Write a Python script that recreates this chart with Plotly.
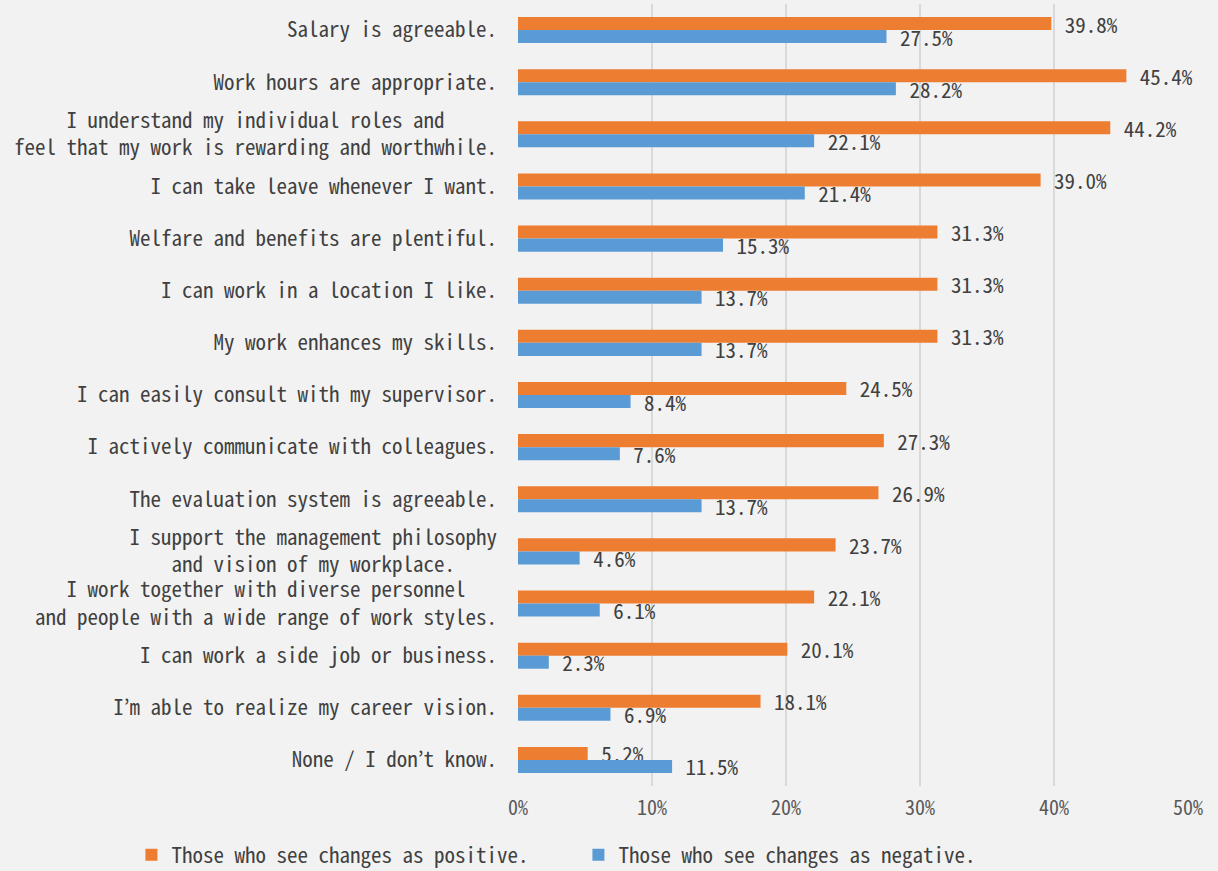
import plotly.graph_objects as go

# Survey items (top to bottom), each as one or more display lines
categories = [
    ["Salary is agreeable."],
    ["Work hours are appropriate."],
    ["I understand my individual roles and",
     "feel that my work is rewarding and worthwhile."],
    ["I can take leave whenever I want."],
    ["Welfare and benefits are plentiful."],
    ["I can work in a location I like."],
    ["My work enhances my skills."],
    ["I can easily consult with my supervisor."],
    ["I actively communicate with colleagues."],
    ["The evaluation system is agreeable."],
    ["I support the management philosophy",
     "and vision of my workplace."],
    ["I work together with diverse personnel",
     "and people with a wide range of work styles."],
    ["I can work a side job or business."],
    ["I\u2019m able to realize my career vision."],
    ["None / I don\u2019t know."],
]

positive = [39.8, 45.4, 44.2, 39.0, 31.3, 31.3, 31.3, 24.5, 27.3, 26.9, 23.7, 22.1, 20.1, 18.1, 5.2]
negative = [27.5, 28.2, 22.1, 21.4, 15.3, 13.7, 13.7, 8.4, 7.6, 13.7, 4.6, 6.1, 2.3, 6.9, 11.5]

series_names = ["Those who see changes as positive.", "Those who see changes as negative."]
tick_values = [0, 10, 20, 30, 40, 50]
tick_labels = ["0%", "10%", "20%", "30%", "40%", "50%"]

ORANGE = "#ED7D31"
BLUE = "#5B9BD5"
TEXT = "#404040"
FONT = "Noto Sans Mono CJK JP, Noto Sans CJK JP, DejaVu Sans Mono, monospace"
NBSP = "\u00a0"


def centered_label(lines):
    """Join lines with <br>, padding shorter lines so they sit centred
    under one another in a monospace font."""
    width = max(len(s) for s in lines)
    out = []
    for s in lines:
        pad = (width - len(s)) // 2
        out.append(s + NBSP * pad)
    return "<br>".join(out)


labels = [centered_label(c) for c in categories]

fig = go.Figure()
for name, vals, color in [(series_names[0], positive, ORANGE),
                          (series_names[1], negative, BLUE)]:
    fig.add_trace(go.Bar(
        name=name,
        y=labels,
        x=vals,
        orientation="h",
        marker=dict(color=color, line=dict(width=0)),
        texttemplate=NBSP + "%{x:.1f}%",
        textposition="outside",
        textfont=dict(family=FONT, size=21, color=TEXT),
        constraintext="none",
        cliponaxis=False,
        hoverinfo="skip",
    ))

fig.update_layout(
    width=1218,
    height=871,
    barmode="group",
    bargap=0.5,
    bargroupgap=0,
    paper_bgcolor="#F2F2F2",
    plot_bgcolor="#F2F2F2",
    font=dict(family=FONT, size=21, color=TEXT),
    margin=dict(l=518, r=30, t=4, b=85, autoexpand=False),
    showlegend=True,
    legend=dict(
        orientation="h",
        x=-0.577,
        xanchor="left",
        y=-0.062,
        yanchor="top",
        entrywidth=402,
        entrywidthmode="pixels",
        font=dict(family=FONT, size=21, color=TEXT),
        bgcolor="rgba(0,0,0,0)",
        traceorder="normal",
    ),
)

fig.update_xaxes(
    range=[0, 50],
    tickvals=tick_values,
    ticktext=tick_labels,
    showgrid=True,
    gridcolor="#D9D9D9",
    gridwidth=2,
    zeroline=False,
    showline=False,
    ticks="",
    ticklabelstandoff=8,
    tickfont=dict(family=FONT, size=20, color="#595959"),
    fixedrange=True,
)

fig.update_yaxes(
    autorange="reversed",
    showgrid=False,
    zeroline=False,
    showline=False,
    ticks="",
    ticklabelstandoff=20,
    tickfont=dict(family=FONT, size=21, color=TEXT),
    fixedrange=True,
)

fig.write_html("out.html")
